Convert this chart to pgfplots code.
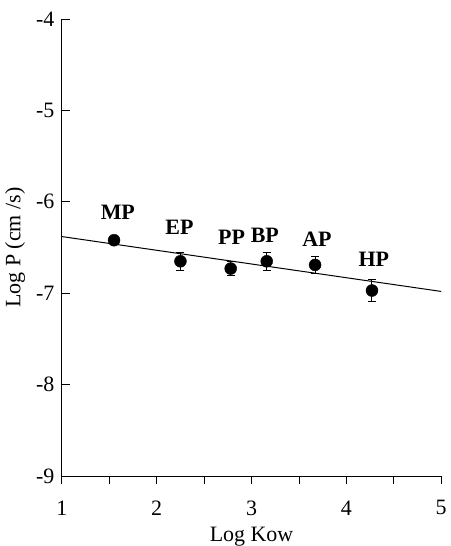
\documentclass[border=0pt]{standalone}
\usepackage{pgfplots}
\pgfplotsset{compat=1.18}
\usepackage{fontspec}
\setmainfont{Liberation Serif}

\begin{document}
\begin{tikzpicture}
  \begin{axis}[
      scale only axis,
      width=380pt, height=458pt,
      xmin=1, xmax=5,
      ymin=-9, ymax=-4,
      axis lines=left,
      axis line style={-, line width=1pt},
      xtick={1,2,3,4,5},
      minor xtick={1.5,2.5,3.5,4.5},
      ytick={-9,-8,-7,-6,-5,-4},
      xtick align=outside,
      ytick align=inside,
      major tick length=8pt,
      minor tick length=8pt,
      tick style={black, line width=0.8pt},
      /pgf/number format/assume math mode=true,
      ticklabel style={font=\fontsize{22}{26}\selectfont},
      xticklabel style={yshift=-13pt},
      yticklabel style={xshift=-4pt},
      xlabel={Log Kow},
      ylabel={Log P (cm /s)},
      label style={font=\fontsize{22}{26}\selectfont},
      xlabel style={yshift=-8pt, inner sep=0pt},
      ylabel style={yshift=4pt},
      clip=false,
    ]

    % regression line
    \addplot[black, line width=1pt] coordinates {
      (1,-6.38) (5,-6.98)
    };

    % measured values with error bars
    \addplot[
      only marks,
      mark=*,
      mark size=6pt,
      mark options={fill=black, draw=black},
      error bars/.cd,
        y dir=both, y explicit,
        error bar style={black, line width=1pt},
        error mark options={rotate=90, mark size=4pt, line width=1pt},
    ] coordinates {
      (1.55,-6.42) +- (0,0.03)
      (2.25,-6.65) +- (0,0.10)
      (2.78,-6.73) +- (0,0.08)
      (3.16,-6.65) +- (0,0.10)
      (3.67,-6.69) +- (0,0.09)
      (4.27,-6.97) +- (0,0.12)
    };

    \begin{scope}[every node/.style={font=\bfseries\fontsize{22}{26}\selectfont}]
      \node at (axis cs:1.59,-6.12) {MP};
      \node at (axis cs:2.24,-6.28) {EP};
      \node at (axis cs:2.79,-6.39) {PP};
      \node at (axis cs:3.14,-6.37) {BP};
      \node at (axis cs:3.69,-6.41) {AP};
      \node at (axis cs:4.29,-6.63) {HP};
    \end{scope}

    \path (rel axis cs:0,1) ++(-62pt,19pt) coordinate (tl);
    \path (rel axis cs:1,0) ++(7pt,-69pt) coordinate (br);
  \end{axis}
  \path (tl) (br);
\end{tikzpicture}
\end{document}
